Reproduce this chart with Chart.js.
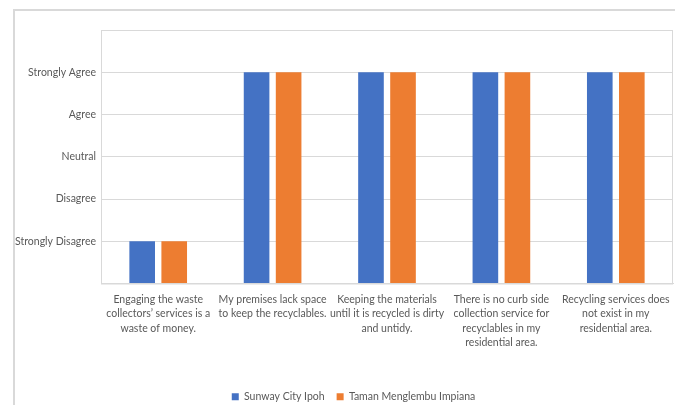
<!DOCTYPE html>
<html>
<head>
<meta charset="utf-8">
<script src="https://cdn.jsdelivr.net/npm/chart.js@4"></script>
<style>
  html, body { margin: 0; padding: 0; background: #fff; }
  body { width: 675px; height: 405px; overflow: hidden; position: relative; }
  #frame { position: absolute; left: 13px; top: 9px; width: 700px; height: 420px;
           border-left: 2px solid #d9d9d9; border-top: 2px solid #d9d9d9; }
  #wrap { position: absolute; left: 0; top: 0; width: 675px; height: 405px; }
</style>
</head>
<body>
<div id="frame"></div>
<div id="wrap"><canvas id="c" width="675" height="405"></canvas></div>
<script>
// Survey statements (x categories), one entry per line of the label
const statements = [
  ["Engaging the waste", "collectors\u2019 services is a", "waste of money."],
  ["My premises lack space", "to keep the recyclables."],
  ["Keeping the materials", "until it is recycled is dirty", "and untidy."],
  ["There is no curb side", "collection service for", "recyclables in my", "residential area."],
  ["Recycling services does", "not exist in my", "residential area."]
];

// Likert scale labels for values 1..5
const likertLabels = ["Strongly Disagree", "Disagree", "Neutral", "Agree", "Strongly Agree"];

const seriesNames = ["Sunway City Ipoh", "Taman Menglembu Impiana"];
const sunwayCityIpoh = [1, 5, 5, 5, 5];
const tamanMenglembuImpiana = [1, 5, 5, 5, 5];

const FONT = "Lato, 'Open Sans', sans-serif";
const TEXT = "#595959";
const GRID = "#d9d9d9";

// Outline of the plot area
const plotBorder = {
  id: "plotBorder",
  beforeDatasetsDraw(chart) {
    const a = chart.chartArea, ctx = chart.ctx;
    ctx.save();
    ctx.strokeStyle = GRID;
    ctx.lineWidth = 1;
    ctx.strokeRect(a.left + 0.5, a.top + 0.5, a.right - a.left - 1, a.bottom - a.top);
    ctx.restore();
  }
};

// Center the legend a little right of the canvas middle
const legendShift = {
  id: "legendShift",
  afterLayout(chart) {
    if (chart.legend) chart.legend.left += 34;
  }
};

new Chart(document.getElementById("c"), {
  type: "bar",
  data: {
    labels: statements,
    datasets: [
      { label: seriesNames[0], data: sunwayCityIpoh, backgroundColor: "#4472C4" },
      { label: seriesNames[1], data: tamanMenglembuImpiana, backgroundColor: "#ED7D31" }
    ]
  },
  options: {
    responsive: false,
    animation: false,
    layout: { padding: { left: 0, top: 30, right: 2, bottom: -7 } },
    datasets: { bar: { categoryPercentage: 0.56, barPercentage: 0.8 } },
    plugins: {
      tooltip: { enabled: false },
      legend: {
        position: "bottom",
        labels: {
          font: { family: FONT, size: 10.5 },
          color: TEXT,
          boxWidth: 7,
          boxHeight: 7,
          padding: 12
        }
      }
    },
    scales: {
      x: {
        grid: { display: false, drawTicks: false },
        border: { display: true, color: GRID },
        ticks: {
          color: TEXT,
          font: { family: FONT, size: 10.5, lineHeight: 1.36 },
          padding: 9,
          maxRotation: 0,
          autoSkip: false
        },
        afterFit(scale) {
          scale.height = 96;
          scale.paddingLeft = 0;
          scale.paddingRight = 0;
        }
      },
      y: {
        min: 0,
        max: 6,
        grid: { color: GRID, drawTicks: false },
        border: { display: false },
        ticks: {
          stepSize: 1,
          color: TEXT,
          font: { family: FONT, size: 10.5 },
          padding: 5,
          callback: (v) => likertLabels[v - 1] || ""
        },
        afterFit(scale) { scale.width = 101; }
      }
    }
  },
  plugins: [plotBorder, legendShift]
});
</script>
</body>
</html>
